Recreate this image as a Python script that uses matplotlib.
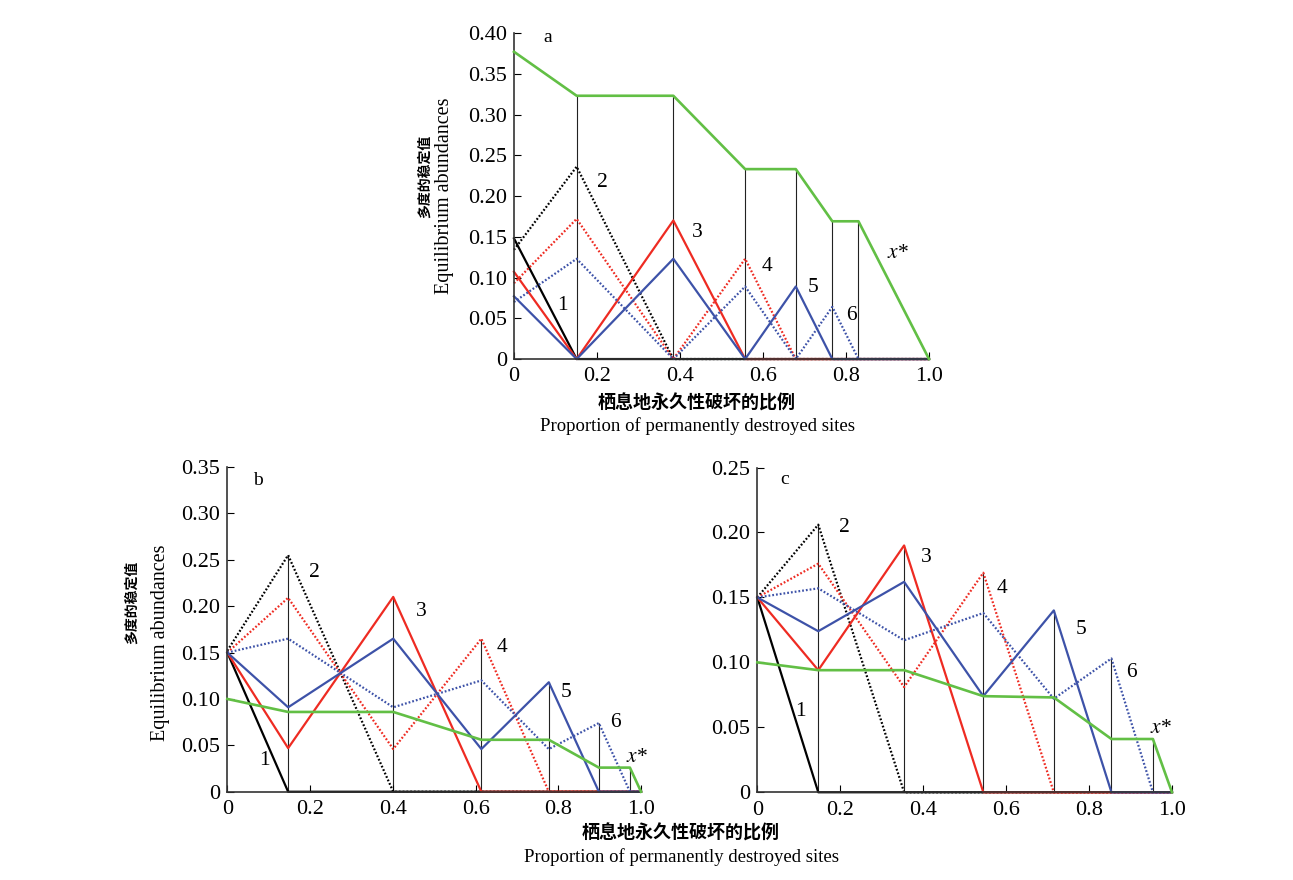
import matplotlib
matplotlib.use('Agg')
import matplotlib.pyplot as plt
import numpy as np

# Painel a: pontos de quebra e abundancias das especies 1-6 e x*
a_x = [0, 0.151, 0.384, 0.557, 0.679, 0.767, 0.830, 1.0]
a_sp1 = [0.148, 0, 0, 0, 0, 0, 0, 0]
a_sp2 = [0.134, 0.236, 0, 0, 0, 0, 0, 0]
a_sp3 = [0.107, 0, 0.170, 0, 0, 0, 0, 0]
a_sp4 = [0.093, 0.172, 0, 0.123, 0, 0, 0, 0]
a_sp5 = [0.077, 0, 0.123, 0, 0.089, 0, 0, 0]
a_sp6 = [0.070, 0.123, 0, 0.089, 0, 0.064, 0, 0]
a_xstar = [0.377, 0.323, 0.323, 0.233, 0.233, 0.169, 0.169, 0]

# Painel b
b_x = [0, 0.147, 0.401, 0.614, 0.777, 0.898, 0.973, 1.0]
b_sp1 = [0.150, 0, 0, 0, 0, 0, 0, 0]
b_sp2 = [0.152, 0.255, 0, 0, 0, 0, 0, 0]
b_sp3 = [0.150, 0.047, 0.210, 0, 0, 0, 0, 0]
b_sp4 = [0.150, 0.209, 0.046, 0.165, 0, 0, 0, 0]
b_sp5 = [0.150, 0.091, 0.165, 0.046, 0.118, 0, 0, 0]
b_sp6 = [0.150, 0.165, 0.091, 0.120, 0.046, 0.074, 0, 0]
b_xstar = [0.100, 0.086, 0.086, 0.056, 0.056, 0.026, 0.026, 0]

# Painel c
c_x = [0, 0.147, 0.354, 0.545, 0.715, 0.854, 0.954, 1.0]
c_sp1 = [0.150, 0, 0, 0, 0, 0, 0, 0]
c_sp2 = [0.150, 0.206, 0, 0, 0, 0, 0, 0]
c_sp3 = [0.150, 0.094, 0.190, 0, 0, 0, 0, 0]
c_sp4 = [0.150, 0.176, 0.081, 0.169, 0, 0, 0, 0]
c_sp5 = [0.150, 0.124, 0.162, 0.074, 0.140, 0, 0, 0]
c_sp6 = [0.150, 0.157, 0.117, 0.138, 0.072, 0.103, 0, 0]
c_xstar = [0.100, 0.094, 0.094, 0.074, 0.073, 0.041, 0.041, 0]

x_ticks = [0, 0.2, 0.4, 0.6, 0.8, 1.0]
x_ticklabels = ['0', '0.2', '0.4', '0.6', '0.8', '1.0']

plt.rcParams['font.family'] = ['Liberation Serif', 'Noto Sans CJK SC']
plt.rcParams['mathtext.fontset'] = 'stix'

verde = '#62bf45'
vermelho = '#ee2b22'
azul = '#3d52a8'
pontilhado = (0, (0.8, 0.9))
estilos = [('black', '-'), ('black', pontilhado), (vermelho, '-'),
           (vermelho, pontilhado), (azul, '-'), (azul, pontilhado)]


def Painel(ax, x, especies, xstar, ymax, letra, letra_pos, rotulos):
    # linhas verticais ate o maior valor em cada ponto de quebra
    topo = np.max(np.vstack(especies + [xstar]), axis=0)
    ax.vlines(x[1:-1], 0, topo[1:-1], color='#222222', lw=0.8, zorder=1)
    for y, (cor, ls) in zip(especies, estilos):
        ax.plot(x, y, color=cor, ls=ls, lw=1.6, zorder=2, clip_on=False)
    ax.plot(x, xstar, color=verde, lw=1.9, zorder=3, clip_on=False)

    ax.set_xlim(0, 1.0)
    ax.set_ylim(0, ymax)
    ax.set_xticks(x_ticks)
    ax.set_xticklabels(x_ticklabels)
    yt = np.round(np.arange(0, ymax + 1e-9, 0.05), 2)
    ax.set_yticks(yt)
    ax.set_yticklabels(['0' if v == 0 else '%.2f' % v for v in yt])
    ax.tick_params(direction='in', length=5, width=0.8, labelsize=16)
    ax.tick_params(axis='y', pad=5)
    ax.tick_params(axis='x', pad=6)
    for s in ['top', 'right']:
        ax.spines[s].set_visible(False)
    for s in ['left', 'bottom']:
        ax.spines[s].set_linewidth(1.2)
        ax.spines[s].set_color('#333333')

    ax.text(letra_pos[0], letra_pos[1], letra, fontsize=14, ha='center', va='center')
    for txt, (px, py) in zip(['1', '2', '3', '4', '5', '6', r'$x$*'], rotulos):
        ax.text(px, py, txt, fontsize=15.5, ha='center', va='center')


fig = plt.figure(figsize=(12.93, 8.8), dpi=100)
ax_a = fig.add_axes([0.3975, 0.592, 0.321, 0.3705])
ax_b = fig.add_axes([0.1758, 0.1003, 0.320, 0.369])
ax_c = fig.add_axes([0.5857, 0.0997, 0.3207, 0.369])

Painel(ax_a, a_x, [a_sp1, a_sp2, a_sp3, a_sp4, a_sp5, a_sp6], a_xstar, 0.40,
       'a', (0.082, 0.394),
       [(0.118, 0.066), (0.214, 0.216), (0.441, 0.155), (0.610, 0.113),
        (0.720, 0.088), (0.812, 0.054), (0.925, 0.130)])
Painel(ax_b, b_x, [b_sp1, b_sp2, b_sp3, b_sp4, b_sp5, b_sp6], b_xstar, 0.35,
       'b', (0.074, 0.336),
       [(0.089, 0.034), (0.210, 0.236), (0.468, 0.194), (0.664, 0.155),
        (0.818, 0.107), (0.937, 0.075), (0.990, 0.037)])
Painel(ax_c, c_x, [c_sp1, c_sp2, c_sp3, c_sp4, c_sp5, c_sp6], c_xstar, 0.25,
       'c', (0.067, 0.241),
       [(0.105, 0.062), (0.209, 0.204), (0.407, 0.181), (0.590, 0.157),
        (0.780, 0.125), (0.903, 0.092), (0.973, 0.049)])

cjk = ['Noto Sans CJK SC', 'DejaVu Sans']

# rotulos do eixo x
fig.text(697 / 1293, 1 - 403 / 880, '栖息地永久性破坏的比例', family=cjk,
         fontweight='bold', fontsize=13, ha='center', va='center')
fig.text(697 / 1293, 1 - 426 / 880, 'Proportion of permanently destroyed sites',
         fontsize=13.5, ha='center', va='center')
fig.text(681 / 1293, 1 - 833 / 880, '栖息地永久性破坏的比例', family=cjk,
         fontweight='bold', fontsize=13, ha='center', va='center')
fig.text(681 / 1293, 1 - 857 / 880, 'Proportion of permanently destroyed sites',
         fontsize=13.5, ha='center', va='center')

# rotulos do eixo y
fig.text(425 / 1293, 1 - 176 / 880, '多度的稳定值', family=cjk, fontweight='bold',
         fontsize=10, rotation=90, ha='center', va='center')
fig.text(445 / 1293, 1 - 196 / 880, 'Equilibrium abundances', fontsize=14.5,
         rotation=90, ha='center', va='center')
fig.text(132 / 1293, 1 - 602 / 880, '多度的稳定值', family=cjk, fontweight='bold',
         fontsize=10, rotation=90, ha='center', va='center')
fig.text(161 / 1293, 1 - 643 / 880, 'Equilibrium abundances', fontsize=14.5,
         rotation=90, ha='center', va='center')

fig.savefig('out.png', dpi=100)
